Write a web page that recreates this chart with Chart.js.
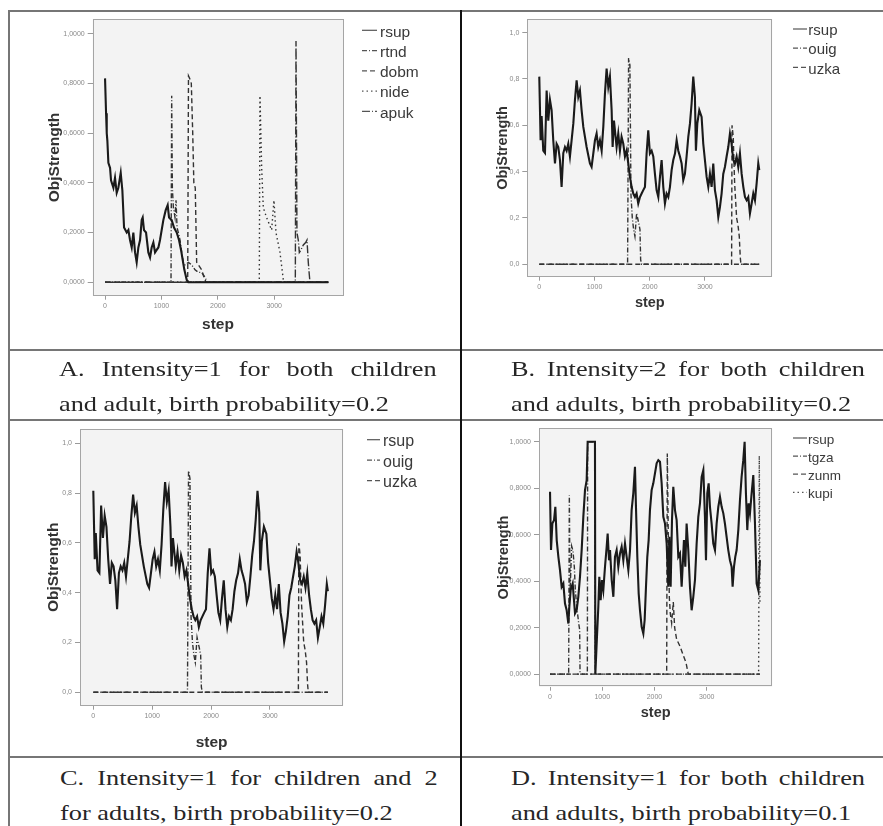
<!DOCTYPE html>
<html><head><meta charset="utf-8">
<script src="https://cdn.jsdelivr.net/npm/chart.js@4.4.1/dist/chart.umd.min.js"></script>
<style>
html,body{margin:0;padding:0;background:#fff;width:883px;height:826px;overflow:hidden;position:relative}
.ln{position:absolute;background:#767676}
.dv{position:absolute;background:#111}
canvas{position:absolute}
.cap{position:absolute;font-family:"Liberation Serif","Times New Roman",serif;font-size:21px;line-height:35px;color:#262626;transform-origin:0 0}
.cap .l1{text-align:justify;text-align-last:justify;white-space:nowrap}
.cap .l2{white-space:nowrap}
</style></head>
<body>
<div class="ln" style="left:8px;top:10px;width:875px;height:2px"></div>
<div class="ln" style="left:8px;top:10px;width:2px;height:816px"></div>
<div class="ln" style="left:8px;top:348.5px;width:875px;height:2px"></div>
<div class="ln" style="left:8px;top:418.5px;width:875px;height:2px"></div>
<div class="ln" style="left:8px;top:756px;width:875px;height:2px"></div>
<div class="dv" style="left:459.5px;top:10px;width:2.5px;height:816px"></div>

<canvas id="cA" width="449" height="336" style="left:10px;top:12px"></canvas>
<canvas id="cB" width="421" height="336" style="left:462px;top:12px"></canvas>
<canvas id="cC" width="449" height="335" style="left:10px;top:421px"></canvas>
<canvas id="cD" width="421" height="335" style="left:462px;top:421px"></canvas>

<div class="cap" style="left:59px;top:352.4px;width:301.4px;transform:scaleX(1.253)"><div class="l1">A. Intensity=1 for both children</div><div class="l2">and adult, birth probability=0.2</div></div>
<div class="cap" style="left:510.7px;top:352.4px;width:282.5px;transform:scaleX(1.253)"><div class="l1">B. Intensity=2 for both children</div><div class="l2">and adults, birth probability=0.2</div></div>
<div class="cap" style="left:60px;top:761.1px;width:301.4px;transform:scaleX(1.253)"><div class="l1">C. Intensity=1 for children and 2</div><div class="l2">for adults, birth probability=0.2</div></div>
<div class="cap" style="left:510.7px;top:761.1px;width:282.5px;transform:scaleX(1.253)"><div class="l1">D. Intensity=1 for both children</div><div class="l2">and adults, birth probability=0.1</div></div>

<script>
// ---------- DATA: [step, ObjStrength] ----------
const X_TICKS = [0, 1000, 2000, 3000];
const X_LABELS = ['0', '1000', '2000', '3000'];
const Y_TICKS = [0, 0.2, 0.4, 0.6, 0.8, 1.0];
const Y_LABELS_4 = ['0,0000', '0,2000', '0,4000', '0,6000', '0,8000', '1,0000'];
const Y_LABELS_1 = ['0,0', '0,2', '0,4', '0,6', '0,8', '1,0'];

// Panel A
const A_rsup = [[0,0.82],[18,0.68],[30,0.60],[41,0.57],[59,0.48],[89,0.46],[106,0.41],[148,0.38],[177,0.42],[207,0.36],[236,0.38],[278,0.44],[307,0.37],[337,0.22],[384,0.20],[414,0.21],[443,0.17],[473,0.14],[502,0.20],[532,0.12],[561,0.08],[591,0.14],[621,0.17],[650,0.25],[668,0.26],[691,0.21],[727,0.20],[768,0.12],[798,0.10],[827,0.14],[857,0.16],[887,0.12],[916,0.13],[946,0.14],[975,0.17],[1034,0.25],[1076,0.29],[1111,0.31],[1135,0.26],[1182,0.25],[1223,0.22],[1271,0.20],[1312,0.17],[1348,0.13],[1377,0.09],[1407,0.05],[1448,0.01],[1478,0],[3960,0]];
const A_rtnd = [[0,0],[1170,0],[1182,0.75],[1194,0.38],[1212,0.30],[1241,0.26],[1259,0.33],[1277,0.22],[1300,0.20],[1330,0.17],[1359,0.12],[1389,0.08],[1418,0.07],[1478,0.08],[1537,0.07],[1596,0.05],[1655,0.04],[1714,0.04],[1773,0.02],[1814,0],[3960,0]];
const A_dobm = [[0,0],[1466,0],[1480,0.83],[1500,0.82],[1530,0.80],[1555,0.60],[1575,0.40],[1600,0.38],[1625,0.08],[1655,0.07],[1714,0.05],[1755,0.02],[1791,0],[3960,0]];
const A_nide = [[0,0],[2736,0],[2748,0.75],[2778,0.46],[2807,0.30],[2866,0.26],[2955,0.21],[2996,0.33],[3032,0.20],[3103,0.12],[3162,0.01],[3180,0],[3960,0]];
const A_apuk = [[0,0],[3375,0],[3387,0.97],[3404,0.20],[3428,0.17],[3446,0.12],[3475,0.13],[3517,0.15],[3558,0.16],[3582,0.17],[3605,0.08],[3623,0.03],[3635,0],[3960,0]];

// Panel B
const B_rsup = [[0,0.81],[24,0.535],[42,0.64],[72,0.49],[103,0.48],[133,0.75],[163,0.62],[193,0.71],[223,0.665],[253,0.535],[284,0.435],[314,0.52],[344,0.506],[374,0.45],[404,0.334],[435,0.48],[465,0.506],[495,0.49],[525,0.52],[555,0.465],[585,0.535],[616,0.607],[646,0.71],[676,0.794],[706,0.722],[736,0.75],[766,0.665],[797,0.593],[857,0.506],[917,0.435],[947,0.42],[978,0.478],[1008,0.535],[1038,0.564],[1068,0.506],[1098,0.535],[1129,0.49],[1159,0.593],[1189,0.737],[1219,0.845],[1249,0.765],[1279,0.81],[1310,0.665],[1328,0.506],[1352,0.62],[1400,0.506],[1430,0.564],[1460,0.49],[1490,0.55],[1521,0.52],[1551,0.465],[1581,0.49],[1611,0.435],[1641,0.377],[1672,0.334],[1702,0.305],[1732,0.29],[1762,0.305],[1792,0.262],[1823,0.29],[1853,0.305],[1883,0.32],[1913,0.334],[1943,0.478],[1973,0.578],[2003,0.478],[2034,0.49],[2064,0.465],[2094,0.39],[2124,0.32],[2155,0.29],[2185,0.377],[2215,0.45],[2245,0.334],[2275,0.262],[2305,0.305],[2336,0.29],[2366,0.334],[2396,0.406],[2426,0.45],[2457,0.478],[2487,0.535],[2517,0.49],[2547,0.465],[2577,0.435],[2607,0.363],[2637,0.39],[2667,0.465],[2698,0.55],[2728,0.607],[2758,0.694],[2788,0.81],[2818,0.722],[2836,0.49],[2861,0.607],[2897,0.665],[2939,0.636],[2969,0.52],[2999,0.45],[3030,0.377],[3060,0.334],[3090,0.39],[3120,0.334],[3150,0.435],[3180,0.32],[3211,0.276],[3241,0.204],[3271,0.247],[3301,0.305],[3331,0.39],[3361,0.42],[3392,0.465],[3422,0.506],[3452,0.564],[3482,0.52],[3512,0.45],[3543,0.435],[3573,0.465],[3603,0.42],[3633,0.478],[3664,0.39],[3694,0.334],[3724,0.29],[3754,0.276],[3784,0.29],[3814,0.219],[3845,0.262],[3875,0.305],[3905,0.276],[3935,0.348],[3965,0.435],[3983,0.406]];
const B_ouig = [[0,0],[1599,0],[1617,0.89],[1641,0.86],[1660,0.30],[1684,0.20],[1708,0.15],[1732,0.12],[1762,0.22],[1798,0.18],[1823,0.15],[1835,0.02],[1853,0],[3983,0]];
const B_uzka = [[0,0],[3482,0],[3490,0.60],[3512,0.55],[3524,0.45],[3537,0.35],[3549,0.30],[3561,0.25],[3573,0.20],[3597,0.17],[3621,0.12],[3639,0.03],[3651,0],[3983,0]];

// Panel C (same run as B in the figure)
const C_rsup = B_rsup.map(p => p.slice());
const C_ouig = B_ouig.map(p => p.slice());
const C_uzka = B_uzka.map(p => p.slice());

// Panel D
const D_rsup = [[0,0.785],[19,0.534],[45,0.648],[77,0.663],[102,0.72],[128,0.577],[160,0.505],[191,0.448],[223,0.376],[255,0.39],[287,0.304],[319,0.275],[351,0.218],[370,0.29],[396,0.362],[434,0.39],[459,0.318],[479,0.261],[510,0.275],[542,0.333],[574,0.419],[606,0.534],[638,0.677],[670,0.792],[702,0.835],[721,1.0],[861,1.0],[868,0],[893,0.13],[925,0.29],[944,0.419],[970,0.318],[995,0.405],[1021,0.362],[1053,0.462],[1085,0.548],[1104,0.605],[1130,0.49],[1149,0.534],[1181,0.405],[1213,0.333],[1244,0.505],[1276,0.534],[1308,0.462],[1340,0.519],[1372,0.548],[1404,0.49],[1436,0.562],[1468,0.505],[1500,0.448],[1532,0.534],[1563,0.706],[1595,0.778],[1627,0.892],[1646,0.72],[1672,0.505],[1698,0.347],[1723,0.275],[1755,0.204],[1787,0.175],[1812,0.232],[1838,0.376],[1863,0.505],[1889,0.577],[1914,0.706],[1946,0.792],[1978,0.821],[2010,0.864],[2042,0.907],[2074,0.921],[2106,0.914],[2138,0.821],[2170,0.677],[2202,0.648],[2234,0.562],[2265,0.376],[2285,0.591],[2310,0.376],[2336,0.663],[2361,0.806],[2393,0.706],[2425,0.663],[2457,0.505],[2489,0.519],[2521,0.376],[2540,0.462],[2565,0.577],[2591,0.462],[2616,0.648],[2648,0.534],[2680,0.376],[2712,0.275],[2744,0.333],[2776,0.405],[2808,0.562],[2840,0.677],[2872,0.735],[2904,0.849],[2936,0.878],[2967,0.677],[2987,0.49],[3012,0.778],[3038,0.821],[3063,0.72],[3095,0.648],[3127,0.562],[3159,0.534],[3191,0.648],[3223,0.72],[3255,0.763],[3287,0.72],[3319,0.692],[3350,0.648],[3382,0.591],[3414,0.534],[3446,0.49],[3478,0.462],[3497,0.376],[3523,0.462],[3548,0.505],[3574,0.534],[3606,0.62],[3638,0.749],[3669,0.849],[3701,0.921],[3727,1.0],[3752,0.778],[3778,0.62],[3803,0.735],[3829,0.692],[3861,0.778],[3893,0.857],[3925,0.648],[3957,0.39],[3989,0.362],[4020,0.49]];
const D_tgza = [[0,0],[357,0],[370,0.77],[383,0.35],[415,0.55],[440,0.53],[466,0.46],[485,0.36],[517,0.28],[549,0.22],[568,0.19],[575,0],[715,0],[721,1.0],[861,1.0],[866,0],[4020,0]];
const D_zunm = [[0,0],[2234,0],[2246,0.95],[2265,0.60],[2285,0.33],[2304,0.26],[2329,0.22],[2361,0.31],[2387,0.20],[2425,0.15],[2489,0.12],[2553,0.08],[2604,0.05],[2648,0],[4020,0]];
const D_kupi = [[0,0],[3995,0],[4008,0.94],[4020,0.30]];

// ---------- STYLE / LAYOUT ----------
const FAM = '"Liberation Sans", Arial, sans-serif';
const DASH = { solid: [], dashdot: [5, 2, 1, 2], dash: [5, 3], dot: [1.5, 3], longdashdot: [8, 2, 1, 2] };

const framePlugin = {
  id: 'frame',
  beforeDraw(c) {
    const { ctx, chartArea: a } = c;
    ctx.save(); ctx.fillStyle = '#f3f3f3';
    ctx.fillRect(a.left, a.top, a.right - a.left, a.bottom - a.top); ctx.restore();
  },
  afterDatasetsDraw(c) {
    const { ctx, chartArea: a } = c;
    ctx.save(); ctx.strokeStyle = '#a5a5a5'; ctx.lineWidth = 1;
    ctx.strokeRect(Math.round(a.left) + 0.5, Math.round(a.top) + 0.5, Math.round(a.right - a.left) - 1, Math.round(a.bottom - a.top) - 1);
    ctx.restore();
  }
};
const legendPlugin = {
  id: 'spssLegend',
  afterDraw(c, args, o) {
    const ctx = c.ctx;
    ctx.save();
    ctx.font = o.size + 'px ' + FAM;
    ctx.textBaseline = 'middle';
    c.data.datasets.forEach((d, i) => {
      const y = o.y + i * o.gap;
      ctx.strokeStyle = '#555'; ctx.lineWidth = 1.2;
      ctx.setLineDash(d.borderDash || []);
      ctx.beginPath(); ctx.moveTo(o.x0, y - 2); ctx.lineTo(o.x1, y - 2); ctx.stroke();
      ctx.setLineDash([]);
      ctx.fillStyle = '#3a3a3a';
      ctx.fillText(d.label, o.tx, y);
    });
    ctx.restore();
  }
};

function makeChart(id, series, L) {
  const datasets = series.map((s, i) => ({
    label: s.label,
    data: s.data.map(p => ({ x: p[0], y: p[1] })),
    borderColor: i === 0 ? '#1a1a1a' : '#333333',
    borderWidth: i === 0 ? 2.1 : 1.4,
    borderDash: DASH[s.style],
    pointRadius: 0, tension: 0, fill: false
  }));
  new Chart(document.getElementById(id), {
    type: 'line',
    data: { datasets },
    plugins: [framePlugin, legendPlugin],
    options: {
      responsive: false, animation: false, devicePixelRatio: 1,
      layout: { padding: { left: 0, top: L.padTop, right: L.padRight, bottom: 0 } },
      plugins: { legend: { display: false }, tooltip: { enabled: false },
        spssLegend: L.legend },
      scales: {
        x: {
          type: 'linear', min: L.xmin, max: L.xmax,
          afterBuildTicks: s => { s.ticks = X_TICKS.map(v => ({ value: v })); },
          afterFit: s => { s.height = L.xh; },
          grid: { drawOnChartArea: false, drawTicks: true, tickLength: 4, color: '#9a9a9a' },
          border: { display: false },
          ticks: { font: { size: 7, family: FAM }, color: '#8a8a8a', padding: 2, maxRotation: 0, autoSkip: false, callback: (v, i) => X_LABELS[i] },
          title: { display: true, text: 'step', color: '#333', font: { size: L.tsize, weight: 'bold', family: FAM, lineHeight: 1.2 }, padding: { top: 0, bottom: L.xtPad } }
        },
        y: {
          type: 'linear', min: -0.054, max: 1.058,
          afterBuildTicks: s => { s.ticks = Y_TICKS.map(v => ({ value: v })); },
          afterFit: s => { s.width = L.yw; },
          grid: { drawOnChartArea: false, drawTicks: true, tickLength: 5, color: '#9a9a9a' },
          border: { display: false },
          ticks: { font: { size: 7, family: FAM }, color: '#8a8a8a', padding: 3, autoSkip: false, callback: (v, i) => L.ylabels[i] },
          title: { display: true, text: 'ObjStrength', color: '#333', font: { size: L.tsize, weight: 'bold', family: FAM, lineHeight: 1.2 }, padding: { top: L.ytPad, bottom: 0 } }
        }
      }
    }
  });
}

makeChart('cA', [
  { label: 'rsup', data: A_rsup, style: 'solid' },
  { label: 'rtnd', data: A_rtnd, style: 'dashdot' },
  { label: 'dobm', data: A_dobm, style: 'dash' },
  { label: 'nide', data: A_nide, style: 'dot' },
  { label: 'apuk', data: A_apuk, style: 'longdashdot' }
], { xmin: -219, xmax: 4226, padTop: 7, padRight: 115.7, yw: 82.7, xh: 52.3, tsize: 15.5, ytPad: 35.7, xtPad: 13.7, ylabels: Y_LABELS_4,
     legend: { x0: 352, x1: 367, tx: 370, y: 20.3, gap: 20.25, size: 15.5 } });

makeChart('cB', [
  { label: 'rsup', data: B_rsup, style: 'solid' },
  { label: 'ouig', data: B_ouig, style: 'dashdot' },
  { label: 'uzka', data: B_uzka, style: 'dash' }
], { xmin: -217, xmax: 4219, padTop: 7, padRight: 110.7, yw: 65.3, xh: 71.3, tsize: 14.5, ytPad: 32.6, xtPad: 36.3, ylabels: Y_LABELS_1,
     legend: { x0: 331, x1: 345, tx: 346.3, y: 19, gap: 19.2, size: 15 } });

makeChart('cC', [
  { label: 'rsup', data: C_rsup, style: 'solid' },
  { label: 'ouig', data: C_ouig, style: 'dashdot' },
  { label: 'uzka', data: C_uzka, style: 'dash' }
], { xmin: -226, xmax: 4245, padTop: 8, padRight: 115.7, yw: 70, xh: 50.3, tsize: 15.5, ytPad: 34.7, xtPad: 3.7, ylabels: Y_LABELS_1,
     legend: { x0: 357, x1: 370, tx: 373, y: 20.7, gap: 20.5, size: 16 } });

makeChart('cD', [
  { label: 'rsup', data: D_rsup, style: 'solid' },
  { label: 'tgza', data: D_tgza, style: 'dashdot' },
  { label: 'zunm', data: D_zunm, style: 'dash' },
  { label: 'kupi', data: D_kupi, style: 'dot' }
], { xmin: -211, xmax: 4257, padTop: 7.3, padRight: 110.7, yw: 77, xh: 69.3, tsize: 14.5, ytPad: 33.3, xtPad: 34.3, ylabels: Y_LABELS_4,
     legend: { x0: 331, x1: 345, tx: 346, y: 19, gap: 18.1, size: 13.5 } });
</script>
</body></html>
